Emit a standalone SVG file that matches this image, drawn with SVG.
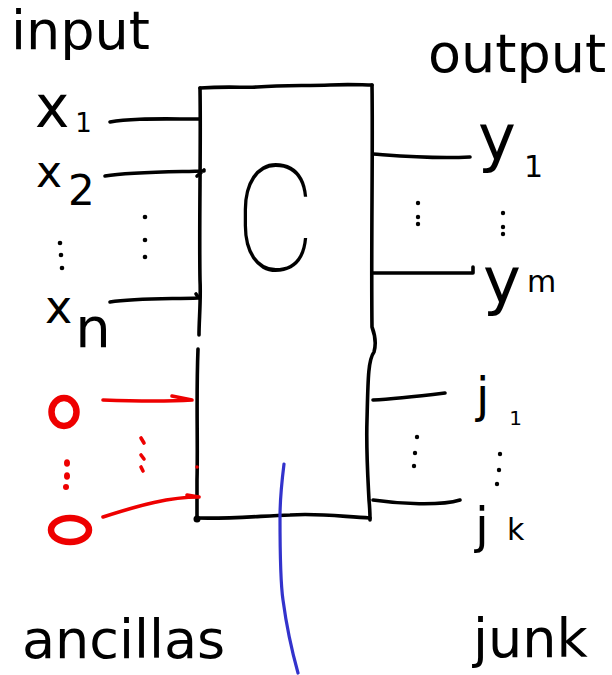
<svg xmlns="http://www.w3.org/2000/svg" width="612" height="675" viewBox="0 0 612 675">
  <style>
    .ink { fill: none; stroke: #000; stroke-width: 3.6; stroke-linecap: round; stroke-linejoin: round; }
    .red { fill: none; stroke: #ee0000; stroke-width: 3.6; stroke-linecap: round; stroke-linejoin: round; }
    .zero { fill: none; stroke: #ee0000; stroke-width: 6.5; }
    .dot { fill: #000; }
    .rdot { fill: #ee0000; }
    .title { font-family: "DejaVu Sans", "Liberation Sans", sans-serif; font-size: 54px; fill: #000; }
    .hand { font-family: "DejaVu Sans", "Liberation Sans", sans-serif; fill: #000; }
    .big { font-family: Roboto, "Lato", "DejaVu Sans", sans-serif; font-weight: 100; fill: #000; }
  </style>

  <!-- section titles -->
  <g id="titles">
    <text class="title" x="11" y="49" font-size="52.5">input</text>
    <text class="title" x="428" y="72">output</text>
    <text class="title" x="22" y="658">ancillas</text>
    <text class="title" x="473" y="657">junk</text>
  </g>

  <!-- the circuit block C -->
  <g id="block-C">
    <path class="ink" d="M200,88 C230,86 245,88 257,87 C285,85 305,86 330,85 C350,84 362,85 372,85"/>
    <path class="ink" d="M200,88 C201,150 199,220 200,280 C201,300 199,320 199,335"/>
    <path class="ink" d="M198,349 C196,400 198,440 197,480 C197,500 197,510 197,518"/>
    <path class="ink" d="M372,85 C373,150 371,250 372,327 C375,335 376,345 374,352 C368,360 368,380 367,420 C366,450 368,480 369,500 C370,510 370,515 370,520"/>
    <path class="ink" d="M197,518 C230,519 260,516 290,515 C320,513 345,517 370,518"/>
    <circle class="dot" cx="197" cy="519" r="3.5"/>
    <text class="big" font-size="148" transform="translate(235,271) scale(0.84,1)">C</text>
  </g>

  <!-- input labels -->
  <g id="in-x1">
    <text class="hand" x="35" y="127" font-size="58">x<tspan font-size="26" dx="6" dy="5">1</tspan></text>
  </g>
  <g id="in-x2">
    <text class="hand" x="36" y="187" font-size="44">x<tspan font-size="42" dx="6" dy="18">2</tspan></text>
  </g>
  <g id="in-xn">
    <text class="hand" x="45" y="323" font-size="46">x<tspan font-size="56" dx="3" dy="24">n</tspan></text>
  </g>
  <g id="in-dots">
    <circle class="dot" cx="60" cy="243" r="2.3"/>
    <circle class="dot" cx="61" cy="255" r="2.3"/>
    <circle class="dot" cx="62" cy="268" r="2.3"/>
    <circle class="dot" cx="145" cy="217" r="2.3"/>
    <circle class="dot" cx="145" cy="240" r="2.3"/>
    <circle class="dot" cx="145" cy="257" r="2.3"/>
  </g>

  <!-- ancilla labels -->
  <g id="anc-0-top">
    <ellipse class="zero" cx="64" cy="412" rx="12.5" ry="14"/>
  </g>
  <g id="anc-0-bottom">
    <ellipse class="zero" cx="70" cy="530" rx="19" ry="12"/>
  </g>
  <g id="anc-dots">
    <ellipse class="rdot" cx="67" cy="463" rx="3" ry="3.8"/>
    <ellipse class="rdot" cx="67" cy="476" rx="3" ry="3.8"/>
    <ellipse class="rdot" cx="66" cy="487" rx="3" ry="3"/>
    <path class="red" stroke-width="3" d="M141,438 L144,443 M141,455 L144,459 M141,467 L143,471"/>
  </g>

  <!-- output labels -->
  <g id="out-y1">
    <text class="hand" x="478" y="160" font-size="64">y<tspan font-size="30" dx="8" dy="17">1</tspan></text>
  </g>
  <g id="out-ym">
    <text class="hand" x="483" y="303" font-size="64">y<tspan font-size="30" dx="6" dy="-11">m</tspan></text>
  </g>
  <g id="out-dots">
    <circle class="dot" cx="418" cy="203" r="2.2"/>
    <circle class="dot" cx="418" cy="217" r="2.2"/>
    <circle class="dot" cx="418" cy="224" r="2.2"/>
    <circle class="dot" cx="503" cy="213" r="2.2"/>
    <circle class="dot" cx="503" cy="227" r="2.2"/>
    <circle class="dot" cx="503" cy="234" r="2.2"/>
  </g>

  <!-- junk labels -->
  <g id="junk-j1">
    <text class="hand" x="476" y="412" font-size="48">j<tspan font-size="20" dx="20" dy="13">1</tspan></text>
  </g>
  <g id="junk-jk">
    <text class="hand" x="475" y="543" font-size="50">j<tspan font-size="30" dx="18" dy="-3">k</tspan></text>
  </g>
  <g id="junk-dots">
    <circle class="dot" cx="417" cy="437" r="2.2"/>
    <circle class="dot" cx="415" cy="453" r="2.2"/>
    <circle class="dot" cx="414" cy="466" r="2.2"/>
    <circle class="dot" cx="500" cy="454" r="2.2"/>
    <circle class="dot" cx="499" cy="470" r="2.2"/>
    <circle class="dot" cx="497" cy="484" r="2.2"/>
  </g>

  <!-- wires into and out of C -->
  <g id="connectors">
    <path class="ink" d="M110,122 C130,118 160,119 200,119"/>
    <path class="ink" d="M105,176 C130,172 170,172 204,171 M197,176 L204,170"/>
    <path class="ink" d="M110,302 C135,298 170,299 198,298 M196,294 L199,298"/>
    <path class="red" d="M103,400 C130,401 160,402 192,400 M172,396 L192,400"/>
    <path class="red" d="M103,517 C140,505 170,497 199,497 M187,495 L199,497"/>
    <circle class="rdot" cx="197" cy="467" r="1.8"/>
    <circle class="rdot" cx="190" cy="400" r="1.2"/>
    <path class="ink" d="M373,154 C400,156 430,159 470,157"/>
    <path class="ink" d="M373,273 L473,273 L473,267"/>
    <path class="ink" d="M373,400 C395,399 420,396 445,393"/>
    <path class="ink" d="M373,500 C400,504 440,506 460,500"/>
    <path fill="none" stroke="#3333cc" stroke-width="3.2" stroke-linecap="round" d="M284,464 C282,480 280,500 280,517 C280,545 280,580 283,600 C287,630 293,655 298,673"/>
  </g>
</svg>
